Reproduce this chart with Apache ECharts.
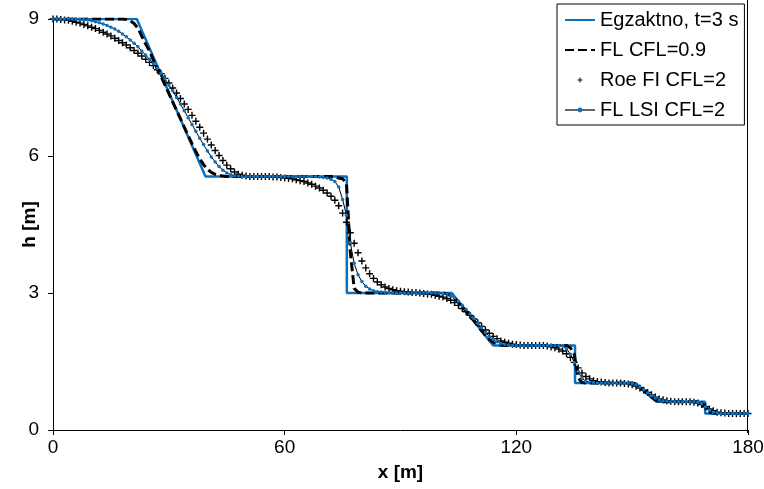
<!DOCTYPE html>
<html>
<head>
<meta charset="utf-8">
<script src="https://cdn.jsdelivr.net/npm/echarts/dist/echarts.min.js"></script>
<style>
  html, body { margin: 0; padding: 0; background: #fff; }
  #chart { width: 764px; height: 489px; }
</style>
</head>
<body>
<div id="chart"></div>
<script>
// Axis ticks
const xTicks = [0, 60, 120, 180];
const hTicks = [0, 3, 6, 9];

// Exact solution at t = 3 s (breakpoints of the piecewise profile)
const exactX = [0, 21.7, 39.5, 76.1, 76.1, 103.3, 114.0, 135.2, 135.2, 150.7, 156.3, 168.9, 168.9, 180];
const exactH = [9.00, 9.00, 5.55, 5.55, 3.00, 3.00, 1.85, 1.85, 1.03, 1.03, 0.62, 0.62, 0.36, 0.36];

// Numerical solutions, one value per cell, cell size 1 m (x = 0 ... 180)
const flCfl09 = [
  9.00, 9.00, 9.00, 9.00, 9.00, 9.00, 9.00, 9.00, 9.00, 9.00,
  9.00, 9.00, 9.00, 9.00, 9.00, 9.00, 9.00, 9.00, 9.00, 8.99,
  8.96, 8.90, 8.80, 8.62, 8.45, 8.30, 8.10, 7.92, 7.74, 7.55,
  7.37, 7.18, 7.00, 6.82, 6.63, 6.45, 6.27, 6.10, 5.94, 5.81,
  5.71, 5.64, 5.60, 5.58, 5.56, 5.55, 5.55, 5.55, 5.55, 5.55,
  5.55, 5.55, 5.55, 5.55, 5.55, 5.55, 5.55, 5.55, 5.55, 5.55,
  5.55, 5.55, 5.55, 5.55, 5.55, 5.55, 5.55, 5.55, 5.55, 5.55,
  5.55, 5.55, 5.55, 5.54, 5.52, 5.50, 5.40, 3.90, 3.10, 3.02,
  3.00, 3.00, 3.00, 3.00, 3.00, 3.00, 3.00, 3.00, 3.00, 3.00,
  3.00, 3.00, 3.00, 3.00, 3.00, 3.00, 3.00, 3.00, 3.00, 3.00,
  3.00, 3.00, 2.98, 2.94, 2.88, 2.80, 2.70, 2.60, 2.50, 2.39,
  2.28, 2.17, 2.07, 1.98, 1.92, 1.88, 1.86, 1.85, 1.85, 1.85,
  1.85, 1.85, 1.85, 1.85, 1.85, 1.85, 1.85, 1.85, 1.85, 1.85,
  1.85, 1.85, 1.85, 1.85, 1.80, 1.66, 1.15, 1.04, 1.03, 1.03,
  1.03, 1.03, 1.03, 1.03, 1.03, 1.03, 1.03, 1.03, 1.03, 1.03,
  1.02, 1.00, 0.94, 0.87, 0.79, 0.72, 0.66, 0.63, 0.62, 0.62,
  0.62, 0.62, 0.62, 0.62, 0.62, 0.62, 0.62, 0.62, 0.60, 0.50,
  0.39, 0.37, 0.36, 0.36, 0.36, 0.36, 0.36, 0.36, 0.36, 0.36,
  0.36
];

const roeFiCfl2 = [
  9.00, 9.00, 8.99, 8.98, 8.97, 8.95, 8.93, 8.91, 8.88, 8.85,
  8.82, 8.79, 8.75, 8.71, 8.67, 8.63, 8.58, 8.53, 8.48, 8.43,
  8.37, 8.31, 8.25, 8.19, 8.12, 8.05, 7.98, 7.89, 7.80, 7.70,
  7.60, 7.49, 7.38, 7.26, 7.14, 7.02, 6.89, 6.76, 6.63, 6.50,
  6.37, 6.24, 6.12, 6.01, 5.90, 5.80, 5.72, 5.65, 5.60, 5.58,
  5.56, 5.55, 5.55, 5.55, 5.55, 5.55, 5.55, 5.54, 5.54, 5.53,
  5.52, 5.51, 5.50, 5.48, 5.46, 5.44, 5.41, 5.38, 5.34, 5.30,
  5.25, 5.19, 5.12, 5.03, 4.91, 4.75, 4.55, 4.32, 4.09, 3.88,
  3.70, 3.55, 3.42, 3.32, 3.24, 3.18, 3.13, 3.10, 3.07, 3.05,
  3.04, 3.03, 3.02, 3.01, 3.01, 3.00, 2.99, 2.98, 2.97, 2.95,
  2.93, 2.91, 2.88, 2.84, 2.79, 2.73, 2.66, 2.59, 2.51, 2.43,
  2.35, 2.27, 2.19, 2.12, 2.05, 2.00, 1.95, 1.92, 1.90, 1.88,
  1.87, 1.86, 1.85, 1.85, 1.85, 1.85, 1.85, 1.85, 1.84, 1.82,
  1.80, 1.77, 1.73, 1.67, 1.59, 1.48, 1.36, 1.25, 1.17, 1.12,
  1.08, 1.06, 1.05, 1.04, 1.03, 1.03, 1.03, 1.03, 1.02, 1.01,
  0.99, 0.96, 0.92, 0.87, 0.82, 0.77, 0.72, 0.68, 0.66, 0.64,
  0.63, 0.62, 0.62, 0.62, 0.62, 0.62, 0.61, 0.59, 0.56, 0.51,
  0.46, 0.42, 0.39, 0.38, 0.37, 0.36, 0.36, 0.36, 0.36, 0.36,
  0.36
];

const flLsiCfl2 = [
  9.00, 9.00, 9.00, 9.00, 9.00, 9.00, 9.00, 8.99, 8.99, 8.98,
  8.96, 8.94, 8.92, 8.89, 8.86, 8.82, 8.78, 8.73, 8.67, 8.61,
  8.54, 8.47, 8.39, 8.30, 8.21, 8.12, 8.02, 7.92, 7.81, 7.69,
  7.56, 7.43, 7.28, 7.14, 6.99, 6.84, 6.69, 6.54, 6.39, 6.25,
  6.11, 5.98, 5.87, 5.77, 5.69, 5.63, 5.59, 5.57, 5.56, 5.55,
  5.55, 5.55, 5.55, 5.55, 5.55, 5.55, 5.55, 5.55, 5.55, 5.55,
  5.55, 5.55, 5.55, 5.55, 5.55, 5.55, 5.55, 5.55, 5.55, 5.54,
  5.53, 5.52, 5.49, 5.44, 5.32, 5.05, 4.70, 4.10, 3.65, 3.40,
  3.25, 3.15, 3.09, 3.05, 3.03, 3.02, 3.01, 3.00, 3.00, 3.00,
  3.00, 3.00, 3.00, 3.00, 3.00, 3.00, 3.00, 3.00, 3.00, 3.00,
  3.00, 2.99, 2.97, 2.94, 2.89, 2.82, 2.73, 2.64, 2.54, 2.44,
  2.34, 2.24, 2.14, 2.05, 1.98, 1.93, 1.89, 1.87, 1.86, 1.85,
  1.85, 1.85, 1.85, 1.85, 1.85, 1.85, 1.85, 1.85, 1.85, 1.85,
  1.85, 1.85, 1.84, 1.78, 1.66, 1.48, 1.28, 1.13, 1.07, 1.05,
  1.04, 1.03, 1.03, 1.03, 1.03, 1.03, 1.03, 1.03, 1.03, 1.03,
  1.02, 0.99, 0.94, 0.88, 0.81, 0.75, 0.70, 0.66, 0.64, 0.63,
  0.62, 0.62, 0.62, 0.62, 0.62, 0.62, 0.62, 0.61, 0.58, 0.51,
  0.43, 0.39, 0.37, 0.36, 0.36, 0.36, 0.36, 0.36, 0.36, 0.36,
  0.36
];

const seriesNames = ['Egzaktno, t=3 s', 'FL CFL=0.9', 'Roe FI CFL=2', 'FL LSI CFL=2'];

// Cell positions of the 1 m mesh
const cellX = flCfl09.map((_, i) => i);
const pairs = (xs, ys) => xs.map((x, i) => [x, ys[i]]);

const FONT = "'Liberation Sans', Arial, sans-serif";
const BLUE = '#0a70c0';
const PLUS = 'path://M4,0H6V4H10V6H6V10H4V6H0V4H4Z';

const chart = echarts.init(document.getElementById('chart'), null, { renderer: 'canvas' });

chart.setOption({
  animation: false,
  backgroundColor: '#fff',
  textStyle: { fontFamily: FONT },
  grid: { left: 53, right: 16, top: 19, bottom: 59, containLabel: false, outerBoundsMode: 'none' },
  xAxis: {
    type: 'value',
    min: xTicks[0], max: xTicks[xTicks.length - 1], interval: xTicks[1] - xTicks[0],
    name: 'x [m]', nameLocation: 'middle', nameGap: 33, nameMoveOverlap: false,
    nameTextStyle: { fontFamily: FONT, fontSize: 19, fontWeight: 'bold', color: '#000' },
    axisLine: { lineStyle: { color: '#000', width: 1 } },
    axisTick: { show: true, inside: false, length: 5, lineStyle: { color: '#000' } },
    axisLabel: { fontFamily: FONT, fontSize: 19, color: '#000', margin: 8 },
    splitLine: { show: false }
  },
  yAxis: {
    type: 'value',
    min: hTicks[0], max: hTicks[hTicks.length - 1], interval: hTicks[1] - hTicks[0],
    name: 'h [m]', nameLocation: 'middle', nameGap: 14, nameRotate: 90, nameMoveOverlap: false,
    nameTextStyle: { fontFamily: FONT, fontSize: 19, fontWeight: 'bold', color: '#000' },
    axisLine: { show: true, lineStyle: { color: '#000', width: 1 } },
    axisTick: { show: true, inside: false, length: 5, lineStyle: { color: '#000' } },
    axisLabel: { fontFamily: FONT, fontSize: 19, color: '#000', margin: 14 },
    splitLine: { show: false }
  },
  legend: {
    orient: 'vertical',
    left: 557, top: 4,
    padding: [6, 6, 5, 7],
    itemGap: 10,
    itemWidth: 30,
    itemHeight: 6,
    backgroundColor: '#fff',
    borderColor: '#000',
    borderWidth: 1,
    borderRadius: 0,
    textStyle: { fontFamily: FONT, fontSize: 20, color: '#000', lineHeight: 20 },
    data: [
      { name: seriesNames[0], itemStyle: { opacity: 0 } },
      { name: seriesNames[1], itemStyle: { opacity: 0 } },
      { name: seriesNames[2] },
      { name: seriesNames[3], lineStyle: { width: 1.2 } }
    ]
  },
  graphic: [{
    type: 'line',
    shape: { x1: 747.5, y1: 0, x2: 747.5, y2: 433 },
    style: { stroke: '#000', lineWidth: 1 },
    silent: true
  }],
  series: [
    {
      name: seriesNames[0], type: 'line',
      data: pairs(exactX, exactH),
      symbol: 'none',
      lineStyle: { color: BLUE, width: 2.5 },
      itemStyle: { color: BLUE },
      z: 2
    },
    {
      name: seriesNames[1], type: 'line',
      data: pairs(cellX, flCfl09),
      symbol: 'none',
      lineStyle: { color: '#000', width: 3, type: [9, 4] },
      itemStyle: { color: '#000' },
      z: 3
    },
    {
      name: seriesNames[2], type: 'line',
      data: pairs(cellX, roeFiCfl2),
      symbol: PLUS, symbolSize: 7, showAllSymbol: true,
      lineStyle: { width: 0, opacity: 0 },
      itemStyle: { color: '#000' },
      z: 4
    },
    {
      name: seriesNames[3], type: 'line',
      data: pairs(cellX, flLsiCfl2),
      symbol: 'circle', symbolSize: 3.5, showAllSymbol: true,
      lineStyle: { color: '#000', width: 1 },
      itemStyle: { color: BLUE, borderWidth: 0 },
      z: 5
    }
  ]
});
</script>
</body>
</html>
